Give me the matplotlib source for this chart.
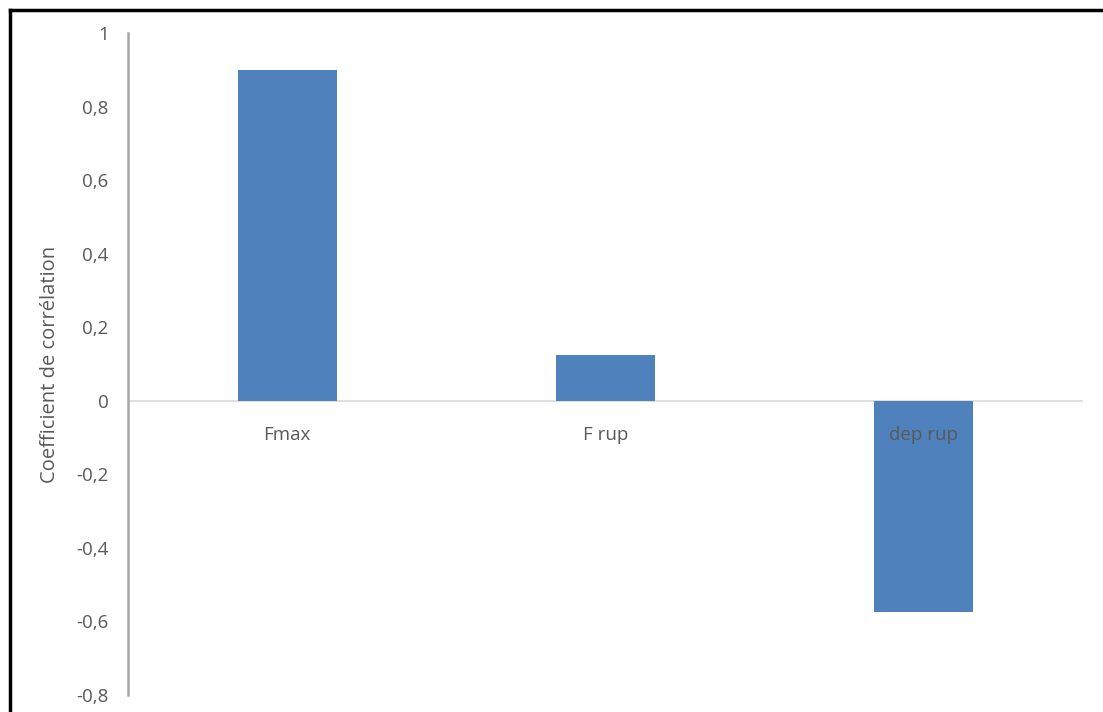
import matplotlib as mpl
mpl.use('Agg')
import matplotlib.pyplot as plt
import matplotlib.transforms as mtransforms
from matplotlib.lines import Line2D
from matplotlib.ticker import FixedLocator, FuncFormatter

categories = ['Fmax', 'F rup', 'dep rup']
correlations = [0.90, 0.125, -0.573]
y_ticks = [-0.8, -0.6, -0.4, -0.2, 0, 0.2, 0.4, 0.6, 0.8, 1]

bar_color = '#4f81bd'
text_color = '#595959'
fs = 13.5

plt.rcParams['font.family'] = ['Open Sans', 'DejaVu Sans']

fig = plt.figure(figsize=(11.03, 7.12), dpi=100)
ax = fig.add_axes([128 / 1103, 1 - 695 / 712, (1083 - 128) / 1103, (695 - 33) / 712])

x = list(range(len(categories)))
ax.bar(x, correlations, width=0.31, color=bar_color, zorder=2)

ax.set_xlim(-0.5, len(categories) - 0.5)
ax.set_ylim(-0.8, 1)

# horizontal zero line across the whole category axis
ax.axhline(0, color='#d9d9d9', lw=1.2, zorder=1)

for s in ['top', 'right', 'bottom']:
    ax.spines[s].set_visible(False)
ax.spines['left'].set_color('#a6a6a6')
ax.spines['left'].set_linewidth(1.8)

ax.yaxis.set_major_locator(FixedLocator(y_ticks))
ax.yaxis.set_major_formatter(FuncFormatter(lambda v, p: ('%g' % round(v, 1)).replace('.', ',')))
ax.tick_params(axis='y', length=0, pad=14, labelsize=fs, labelcolor=text_color)
ax.set_xticks([])

# category labels sit just under the zero line, on top of the bars
offset = mtransforms.offset_copy(ax.transData, fig=fig, x=0, y=-24.5, units='points')
for xi, name in zip(x, categories):
    ax.text(xi, 0, name, ha='center', va='center', fontsize=fs, color=text_color,
            transform=offset, zorder=5)

ax.set_ylabel('Coefficient de corrélation', fontsize=14.5, color=text_color, va='center')
ax.yaxis.set_label_coords(50 / 1103, 1 - 364 / 712, transform=fig.transFigure)

# black frame on top and left edges
fig.add_artist(Line2D([10 / 1103, 1], [1 - 10 / 712, 1 - 10 / 712], color='black', lw=2.5,
                      transform=fig.transFigure))
fig.add_artist(Line2D([10 / 1103, 10 / 1103], [0, 1 - 10 / 712], color='black', lw=2.5,
                      transform=fig.transFigure))

fig.savefig('out.png', dpi=100)
